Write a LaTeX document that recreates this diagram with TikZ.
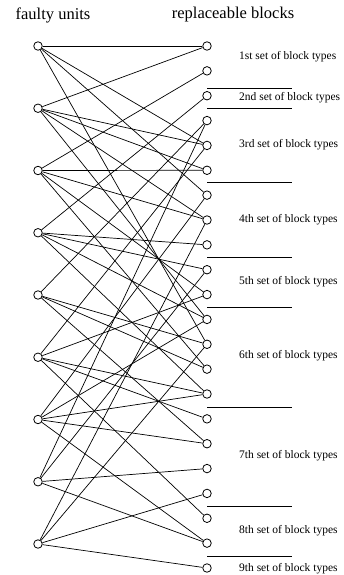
\documentclass[tikz,border=0pt]{standalone}
\usepackage{fontspec}
\setmainfont{Liberation Serif}
\begin{document}
\begin{tikzpicture}[%
    x=1pt,y=-1pt,%
    unit/.style={draw,circle,line width=0.8pt,fill=white,inner sep=0pt,minimum size=8.5pt},%
    link/.style={draw,line width=0.7pt},%
    divider/.style={draw,line width=0.7pt},%
    settext/.style={anchor=west,inner sep=0pt,font=\fontsize{11.5}{14}\selectfont},%
    head/.style={inner sep=0pt,font=\fontsize{16.5}{18}\selectfont},%
]%
    \useasboundingbox (0,0) rectangle (344,575);
    \pgfmathsetmacro{\xl}{38}
    \pgfmathsetmacro{\xr}{207}

    \node[head] (hu) at (53,15) {faulty units};
    \node[head] (hb) at (233,15) {replaceable blocks};

    % faulty units
    \foreach \i in {1,...,9}{%
        \node[unit] (f\i) at (\xl,{46+62.25*(\i-1)}) {};
    }
    % replaceable blocks
    \foreach \j in {1,...,22}{%
        \node[unit] (b\j) at (\xr,{46+24.857*(\j-1)}) {};
    }

    % links unit -> block
    \foreach \a/\b in {1/1,1/5,1/7,1/13,
                       2/1,2/5,2/6,2/8,2/12,
                       3/2,3/6,3/8,3/11,3/14,
                       4/3,4/9,4/10,4/12,4/15,
                       5/4,5/13,5/14,5/17,
                       6/5,6/11,6/15,6/16,6/20,
                       7/7,7/12,7/15,7/17,7/21,
                       8/4,8/10,8/18,8/21,
                       9/8,9/13,9/19,9/22}{%
        \path[link] (f\a) -- (b\b);
    }

    % dividers between the sets
    \foreach \y in {88,108,182,257,307,407,506,556}{%
        \path[divider] (\xr,\y) -- (292,\y);
    }

    % set labels
    \foreach \y/\t in {57/1st,98/2nd,145/3rd,220/4th,282/5th,
                       356/6th,456/7th,531/8th,569/9th}{%
        \node[settext] (l\t) at (239,\y) {\t\ set of block types};
    }
\end{tikzpicture}
\end{document}
